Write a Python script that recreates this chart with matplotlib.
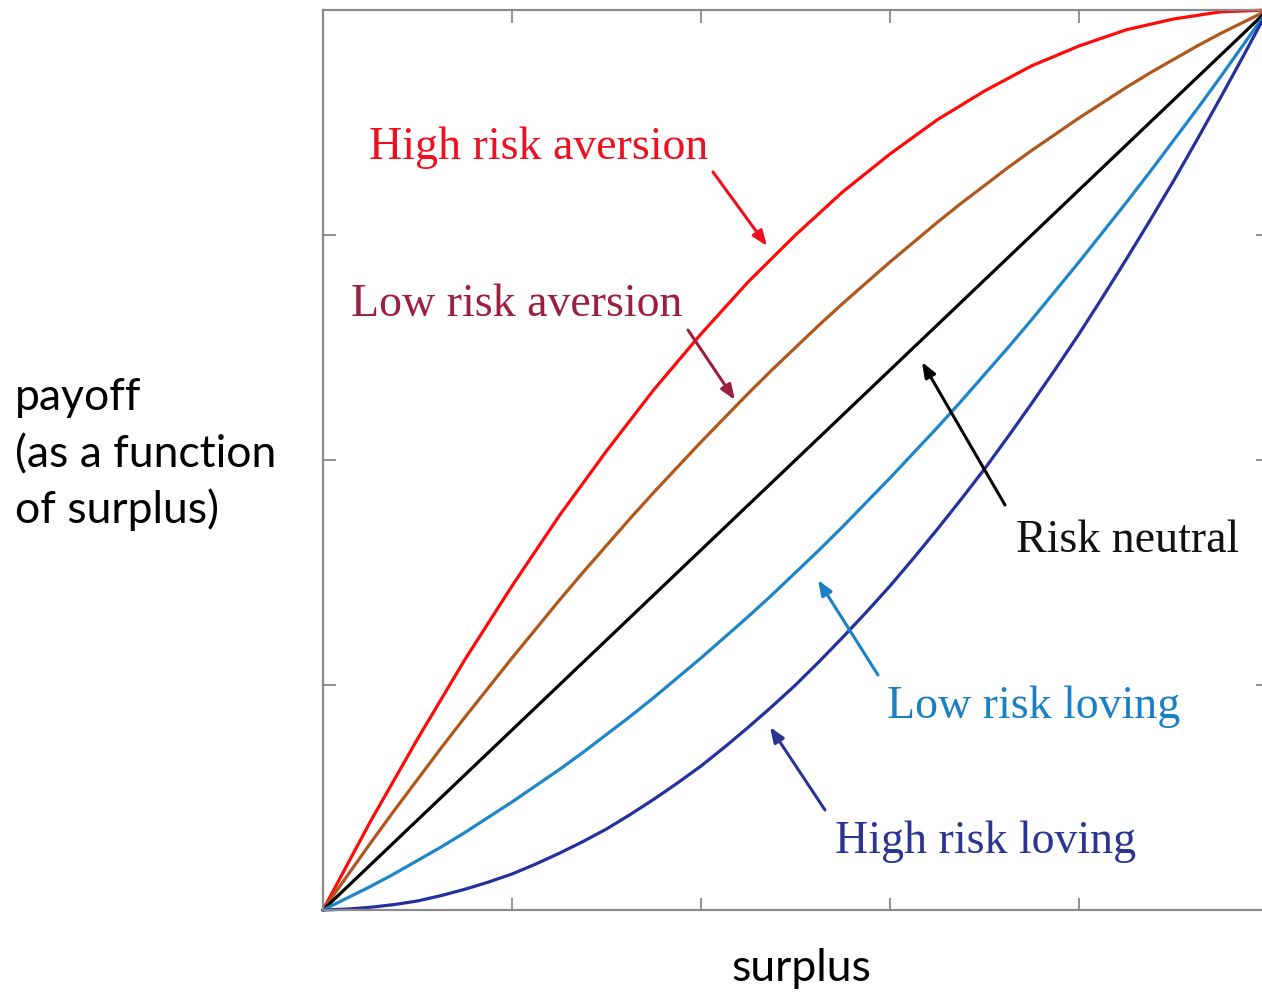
import matplotlib
matplotlib.use("Agg")
import matplotlib.pyplot as plt

# ---- data (surplus share -> payoff share) ----
surplus = [0.000, 0.025, 0.050, 0.075, 0.100, 0.125, 0.150, 0.175, 0.200, 0.225,
           0.250, 0.275, 0.300, 0.325, 0.350, 0.375, 0.400, 0.425, 0.450, 0.475,
           0.500, 0.525, 0.550, 0.575, 0.600, 0.625, 0.650, 0.675, 0.700, 0.725,
           0.750, 0.775, 0.800, 0.825, 0.850, 0.875, 0.900, 0.925, 0.950, 0.975, 1.000]
high_risk_aversion = [0.000, 0.049, 0.098, 0.144, 0.190, 0.234, 0.278, 0.319, 0.360, 0.399,
                      0.438, 0.474, 0.510, 0.544, 0.578, 0.609, 0.640, 0.669, 0.698, 0.724,
                      0.750, 0.774, 0.798, 0.819, 0.840, 0.859, 0.878, 0.894, 0.910, 0.924,
                      0.938, 0.949, 0.960, 0.969, 0.978, 0.984, 0.990, 0.994, 0.998, 0.999, 1.000]
low_risk_aversion = [0.000, 0.037, 0.074, 0.110, 0.145, 0.180, 0.214, 0.247, 0.280, 0.312,
                     0.344, 0.375, 0.405, 0.435, 0.464, 0.492, 0.520, 0.547, 0.574, 0.600,
                     0.625, 0.650, 0.674, 0.697, 0.720, 0.742, 0.764, 0.785, 0.805, 0.825,
                     0.844, 0.862, 0.880, 0.897, 0.914, 0.930, 0.945, 0.960, 0.974, 0.987, 1.000]
risk_neutral = [0.000, 0.025, 0.050, 0.075, 0.100, 0.125, 0.150, 0.175, 0.200, 0.225,
                0.250, 0.275, 0.300, 0.325, 0.350, 0.375, 0.400, 0.425, 0.450, 0.475,
                0.500, 0.525, 0.550, 0.575, 0.600, 0.625, 0.650, 0.675, 0.700, 0.725,
                0.750, 0.775, 0.800, 0.825, 0.850, 0.875, 0.900, 0.925, 0.950, 0.975, 1.000]
low_risk_loving = [0.000, 0.013, 0.026, 0.040, 0.055, 0.070, 0.086, 0.103, 0.120, 0.138,
                   0.156, 0.175, 0.195, 0.215, 0.236, 0.258, 0.280, 0.303, 0.326, 0.350,
                   0.375, 0.400, 0.426, 0.453, 0.480, 0.508, 0.536, 0.565, 0.595, 0.625,
                   0.656, 0.688, 0.720, 0.753, 0.786, 0.820, 0.855, 0.890, 0.926, 0.963, 1.000]
high_risk_loving = [0.000, 0.001, 0.003, 0.006, 0.010, 0.016, 0.023, 0.031, 0.040, 0.051,
                    0.063, 0.076, 0.090, 0.106, 0.123, 0.141, 0.160, 0.181, 0.203, 0.226,
                    0.250, 0.276, 0.303, 0.331, 0.360, 0.391, 0.423, 0.456, 0.490, 0.526,
                    0.563, 0.601, 0.640, 0.681, 0.723, 0.766, 0.810, 0.856, 0.903, 0.951, 1.000]

x_ticks = [0.2, 0.4, 0.6, 0.8]
y_ticks = [0.25, 0.5, 0.75]

labels = ["High risk aversion", "Low risk aversion", "Risk neutral",
          "Low risk loving", "High risk loving"]
y_label_lines = ["payoff", "(as a function", "of surplus)"]
x_label = "surplus"

# ---- layout ----
W, H = 1262, 994
X0, Y0, AXW, AXH = 323, 910, 945, 900   # axes origin (px) and size (px)


def px(xp, yp):
    """reference pixel position -> axes data position (layout only)"""
    return ((xp - X0) / AXW, (Y0 - yp) / AXH)


fig = plt.figure(figsize=(W / 100, H / 100), dpi=100)
ax = fig.add_axes([X0 / W, (H - Y0) / H, AXW / W, AXH / H])

line_specs = [
    (high_risk_aversion, "#ff0a0a"),
    (low_risk_aversion, "#b0581c"),
    (risk_neutral, "#000000"),
    (low_risk_loving, "#1e86c8"),
    (high_risk_loving, "#24309c"),
]
for ys, c in line_specs:
    ax.plot(surplus, ys, color=c, lw=2.3, solid_capstyle="round",
            solid_joinstyle="round", clip_on=False)

ax.set_xlim(0, 1)
ax.set_ylim(0, 1)
ax.set_xticks(x_ticks)
ax.set_yticks(y_ticks)
ax.tick_params(direction="in", length=9, width=1.2, color="#7f7f7f",
               top=True, right=True, labelbottom=False, labelleft=False)
for side in ["left", "bottom", "top"]:
    ax.spines[side].set_color("#8a8a8a")
    ax.spines[side].set_linewidth(1.6)
ax.spines["right"].set_visible(False)

serif = ["Liberation Serif", "DejaVu Serif"]
fs = 33

# label, text centre x (px), baseline (px), colour, arrow tail (px), arrow head (px)
annots = [
    (labels[0], 539, 159, "#ee1020", (713, 172), (767, 246)),
    (labels[1], 517, 316, "#9c1f40", (688, 330), (735, 400)),
    (labels[2], 1128, 552, "#111111", (1005, 505), (922, 362)),
    (labels[3], 1034, 718, "#1a80c4", (878, 675), (818, 580)),
    (labels[4], 986, 853, "#2a3593", (825, 810), (770, 727)),
]
for txt, tx, ty, tc, tail, head in annots:
    ax.text(*px(tx, ty), txt, color=tc, fontsize=fs, family=serif,
            ha="center", va="baseline")
    ax.annotate("", xy=px(*head), xytext=px(*tail),
                arrowprops=dict(arrowstyle="-|>,head_length=0.9,head_width=0.35",
                                color=tc if tc != "#111111" else "#000000",
                                lw=2.2, shrinkA=0, shrinkB=0))

sans = ["Lato", "DejaVu Sans"]
for line, yb in zip(y_label_lines, [410, 467, 523]):
    fig.text(15 / W, 1 - yb / H, line, fontsize=32, family=sans,
             ha="left", va="baseline", color="#000000")
fig.text(801 / W, 1 - 981 / H, x_label, fontsize=32, family=sans,
         ha="center", va="baseline", color="#000000")

fig.savefig("out.png", dpi=100)
